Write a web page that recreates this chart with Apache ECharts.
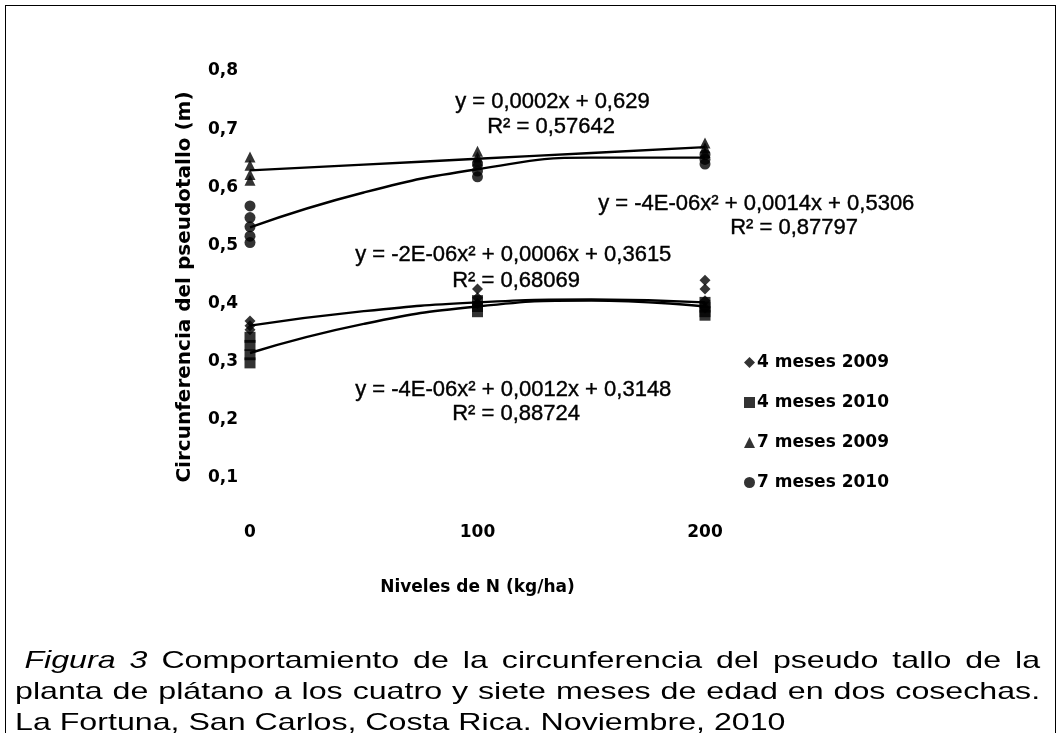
<!DOCTYPE html>
<html>
<head>
<meta charset="utf-8">
<script src="https://cdn.jsdelivr.net/npm/echarts@6/dist/echarts.min.js"></script>
<style>
  html, body { margin: 0; padding: 0; background: #fff; }
  #wrap { position: relative; width: 1062px; height: 733px; overflow: hidden; }
  #chart { position: absolute; left: 0; top: 0; width: 1062px; height: 733px; }
  #frame { position: absolute; left: 5px; top: 5px; width: 1051px; height: 800px; border: 1.5px solid #000; box-sizing: border-box; pointer-events: none; }
  #caption { position: absolute; left: 15px; top: 644px; width: 765px; font-family: "Liberation Sans", Arial, sans-serif; font-size: 24px; line-height: 31px; color: #000; transform: scaleX(1.34); transform-origin: 0 0; }
  #caption .j { text-align: justify; text-align-last: justify; white-space: nowrap; }
  #caption .l1 { padding-left: 7px; }
</style>
</head>
<body>
<div id="wrap">
  <div id="chart"></div>
  <div id="frame"></div>
  <div id="caption">
    <div class="j l1"><i>Figura 3</i> Comportamiento de la circunferencia del pseudo tallo de la</div>
    <div class="j">planta de plátano a los cuatro y siete meses de edad en dos cosechas.</div>
    <div>La Fortuna, San Carlos, Costa Rica. Noviembre, 2010</div>
  </div>
</div>
<script>
// ---- data ----
const nivelesN = [0, 100, 200];
const yTicks = [0.1, 0.2, 0.3, 0.4, 0.5, 0.6, 0.7, 0.8];

// observations per N level (one sub-array per level)
const meses4_2009 = [[0.370, 0.362, 0.355], [0.425, 0.410, 0.400], [0.440, 0.425, 0.405, 0.392]];
const meses4_2010 = [[0.342, 0.328, 0.312, 0.298], [0.405, 0.395, 0.386], [0.402, 0.394, 0.386, 0.380]];
const meses7_2009 = [[0.652, 0.638, 0.622, 0.612], [0.662, 0.652, 0.645], [0.676, 0.668, 0.660]];
const meses7_2010 = [[0.568, 0.548, 0.532, 0.516, 0.505], [0.640, 0.628, 0.618], [0.656, 0.648, 0.640]];

// trend lines read at these N levels
const trendX = [0, 50, 100, 150, 200];
const trend7_2009 = [0.629, 0.639, 0.649, 0.659, 0.669];
const trend7_2010 = [0.531, 0.591, 0.631, 0.651, 0.651];
const trend4_2009 = [0.362, 0.387, 0.402, 0.407, 0.402];
const trend4_2010 = [0.315, 0.365, 0.395, 0.405, 0.395];

const seriesNames = ['4 meses 2009', '4 meses 2010', '7 meses 2009', '7 meses 2010'];
const equations = [
  'y = 0,0002x + 0,629', 'R² = 0,57642',
  'y = -4E-06x² + 0,0014x + 0,5306', 'R² = 0,87797',
  'y = -2E-06x² + 0,0006x + 0,3615', 'R² = 0,68069',
  'y = -4E-06x² + 0,0012x + 0,3148', 'R² = 0,88724'
];

// ---- build ----
function pts(groups) {
  const out = [];
  groups.forEach((g, i) => g.forEach(v => out.push([nivelesN[i], v])));
  return out;
}
function line(vals) { return trendX.map((x, i) => [x, vals[i]]); }

const boldFont = '"DejaVu Sans", sans-serif';
const eqFont = '"Liberation Sans", Arial, sans-serif';

function scatter(name, symbol, groups) {
  return { name, type: 'scatter', symbol, symbolSize: 11, itemStyle: { color: '#000' }, data: pts(groups), z: 3 };
}
function trend(vals) {
  return { type: 'line', data: line(vals), smooth: true, showSymbol: false, symbol: 'none',
           lineStyle: { color: '#000', width: 2.4 }, silent: true, z: 2 };
}
function eqText(str, left, top) {
  return { type: 'text', left, top, style: { text: str, font: '22px ' + eqFont, fill: '#000', stroke: '#000', lineWidth: 0.4 } };
}

const chart = echarts.init(document.getElementById('chart'), null, { renderer: 'canvas' });
chart.setOption({
  animation: false,
  backgroundColor: '#fff',
  grid: { left: 250, right: 357, top: 71, bottom: 255 },
  xAxis: {
    type: 'value', min: 0, max: 200, interval: 100,
    axisLine: { show: false }, axisTick: { show: false }, splitLine: { show: false },
    axisLabel: { margin: 46, fontFamily: boldFont, fontWeight: 'bold', fontSize: 17, color: '#000' },
    name: 'Niveles de N (kg/ha)', nameLocation: 'middle', nameGap: 101,
    nameTextStyle: { fontFamily: boldFont, fontWeight: 'bold', fontSize: 17, color: '#000' }
  },
  yAxis: {
    type: 'value', min: yTicks[0], max: yTicks[yTicks.length - 1], interval: 0.1,
    axisLine: { show: false }, axisTick: { show: false }, splitLine: { show: false },
    axisLabel: { margin: 12, fontFamily: boldFont, fontWeight: 'bold', fontSize: 17, color: '#000',
                 formatter: v => v.toFixed(1).replace('.', ',') },
    name: 'Circunferencia del pseudotallo (m)', nameLocation: 'middle', nameGap: 55,
    nameTextStyle: { fontFamily: boldFont, fontWeight: 'bold', fontSize: 20, color: '#000', padding: [0, 25, 0, 0] }
  },
  legend: {
    data: seriesNames, orient: 'vertical', left: 744, top: 354,
    itemWidth: 11, itemHeight: 11, itemGap: 23, padding: 0,
    textStyle: { fontFamily: boldFont, fontWeight: 'bold', fontSize: 17, color: '#000', padding: [0, 0, 0, -3] }
  },
  graphic: [
    eqText(equations[0], 455, 91), eqText(equations[1], 487, 116),
    eqText(equations[2], 598, 193), eqText(equations[3], 730, 217),
    eqText(equations[4], 355, 244), eqText(equations[5], 452, 270),
    eqText(equations[6], 355, 379), eqText(equations[7], 452, 403)
  ],
  series: [
    scatter(seriesNames[0], 'diamond', meses4_2009),
    scatter(seriesNames[1], 'rect', meses4_2010),
    scatter(seriesNames[2], 'triangle', meses7_2009),
    scatter(seriesNames[3], 'circle', meses7_2010),
    trend(trend7_2009), trend(trend7_2010), trend(trend4_2009), trend(trend4_2010)
  ]
});
</script>
</body>
</html>
